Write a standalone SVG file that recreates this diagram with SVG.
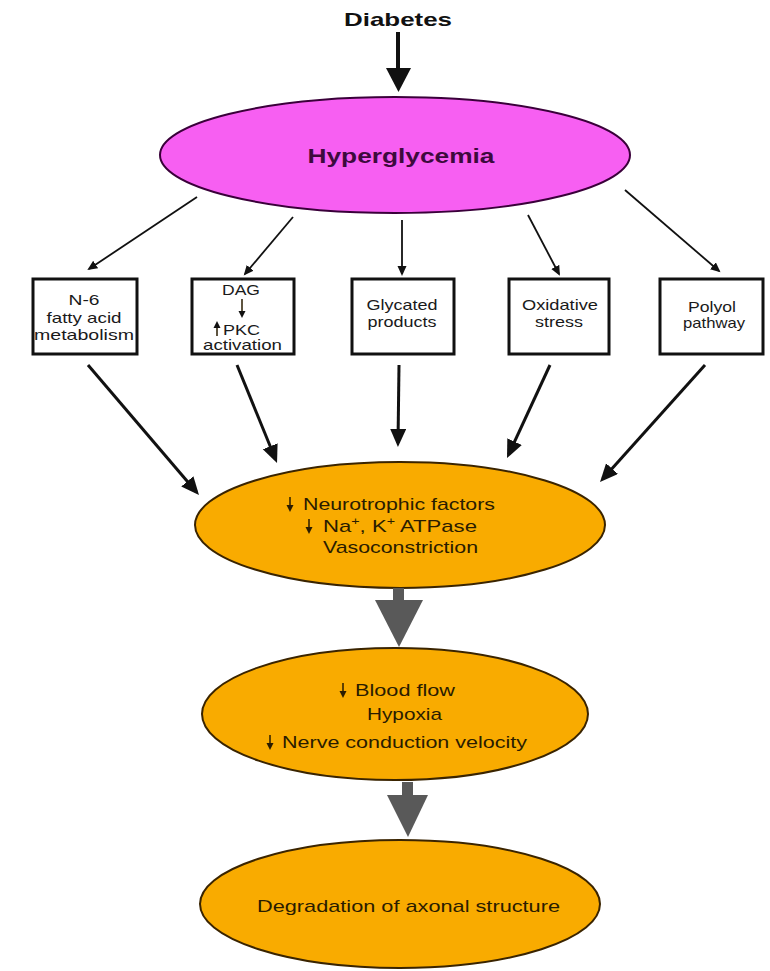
<svg xmlns="http://www.w3.org/2000/svg" width="770" height="971" viewBox="0 0 770 971">
<style>
.t{font-family:"Liberation Sans",Arial,sans-serif;}
.box{fill:#fff;stroke:#111;stroke-width:3;}
.bt{font-family:"Liberation Sans",Arial,sans-serif;font-size:14.5px;fill:#1a1a1a;text-anchor:middle;}
.ot{font-family:"Liberation Sans",Arial,sans-serif;font-size:17px;fill:#2a1c00;}
.orange{fill:#f9ab00;stroke:#3a2400;stroke-width:2;}
.thin{stroke:#111;stroke-width:1.8;fill:none;marker-end:url(#hs);}
.thick{stroke:#111;stroke-width:3;fill:none;marker-end:url(#hl);}
.sm{stroke:#2a1c00;stroke-width:1.5;fill:none;}
.gray{fill:#595959;}
</style>
<defs>
<marker id="hs" markerUnits="userSpaceOnUse" markerWidth="11" markerHeight="10" refX="8" refY="4.5" orient="auto"><path d="M0,0 L10,4.5 L0,9 z" fill="#111"/></marker>
<marker id="hl" markerUnits="userSpaceOnUse" markerWidth="19" markerHeight="17" refX="14" refY="8" orient="auto"><path d="M0,0 L18,8 L0,16 z" fill="#111"/></marker>
</defs>
<rect width="770" height="971" fill="#fff"/>

<g id="diabetes">
<text class="t" x="398" y="26" font-size="19" font-weight="bold" text-anchor="middle" textLength="108" lengthAdjust="spacingAndGlyphs" fill="#111">Diabetes</text>
</g>

<g id="hyperglycemia">
<ellipse cx="395" cy="155" rx="235" ry="58" fill="#f75ff2" stroke="#3a003a" stroke-width="2"/>
<text class="t" x="401" y="163" font-size="21" font-weight="bold" text-anchor="middle" textLength="187" lengthAdjust="spacingAndGlyphs" fill="#3d0a3d">Hyperglycemia</text>
</g>

<g id="box-n6">
<rect class="box" x="33" y="279" width="104" height="75"/>
<text class="bt" x="84" y="305" textLength="31" lengthAdjust="spacingAndGlyphs">N-6</text>
<text class="bt" x="84" y="323" textLength="75" lengthAdjust="spacingAndGlyphs">fatty acid</text>
<text class="bt" x="84" y="340" textLength="100" lengthAdjust="spacingAndGlyphs">metabolism</text>
</g>

<g id="box-dag">
<rect class="box" x="192" y="279" width="102" height="75"/>
<text class="bt" x="241" y="295" textLength="38" lengthAdjust="spacingAndGlyphs">DAG</text>
<line class="sm" x1="242" y1="299" x2="242" y2="312"/>
<path d="M238.5,311 L245.5,311 L242,318 z" fill="#111"/>
<line class="sm" x1="217" y1="327" x2="217" y2="336"/>
<path d="M213.5,328 L220.5,328 L217,321 z" fill="#111"/>
<text class="bt" x="241.5" y="335" textLength="37" lengthAdjust="spacingAndGlyphs">PKC</text>
<text class="bt" x="242.5" y="350" textLength="79" lengthAdjust="spacingAndGlyphs">activation</text>
</g>

<g id="box-glycated">
<rect class="box" x="352" y="279" width="102" height="75"/>
<text class="bt" x="402" y="310" textLength="71" lengthAdjust="spacingAndGlyphs">Glycated</text>
<text class="bt" x="402" y="327" textLength="69" lengthAdjust="spacingAndGlyphs">products</text>
</g>

<g id="box-oxidative">
<rect class="box" x="509" y="279" width="100" height="75"/>
<text class="bt" x="560" y="310" textLength="76" lengthAdjust="spacingAndGlyphs">Oxidative</text>
<text class="bt" x="559" y="327" textLength="48" lengthAdjust="spacingAndGlyphs">stress</text>
</g>

<g id="box-polyol">
<rect class="box" x="660" y="279" width="103" height="75"/>
<text class="bt" x="712" y="312" textLength="48" lengthAdjust="spacingAndGlyphs">Polyol</text>
<text class="bt" x="714" y="328" textLength="62" lengthAdjust="spacingAndGlyphs">pathway</text>
</g>

<g id="effects1">
<ellipse class="orange" cx="400" cy="525" rx="205" ry="63"/>
<line class="sm" x1="290" y1="497" x2="290" y2="506"/>
<path d="M286.5,505 L293.5,505 L290,512 z" fill="#2a1c00"/>
<text class="ot" x="303" y="510" textLength="192" lengthAdjust="spacingAndGlyphs">Neurotrophic factors</text>
<line class="sm" x1="309" y1="519" x2="309" y2="528"/>
<path d="M305.5,527 L312.5,527 L309,534 z" fill="#2a1c00"/>
<text class="ot" x="323" y="532" textLength="154" lengthAdjust="spacingAndGlyphs">Na<tspan font-size="11" dy="-7">+</tspan><tspan dy="7">, K</tspan><tspan font-size="11" dy="-7">+</tspan><tspan dy="7"> ATPase</tspan></text>
<text class="ot" x="323" y="553" textLength="155" lengthAdjust="spacingAndGlyphs">Vasoconstriction</text>
</g>

<g id="effects2">
<ellipse class="orange" cx="395" cy="714" rx="193" ry="66"/>
<line class="sm" x1="343" y1="683" x2="343" y2="692"/>
<path d="M339.5,691 L346.5,691 L343,698 z" fill="#2a1c00"/>
<text class="ot" x="355" y="696" textLength="100" lengthAdjust="spacingAndGlyphs">Blood flow</text>
<text class="ot" x="367" y="720" textLength="75" lengthAdjust="spacingAndGlyphs">Hypoxia</text>
<line class="sm" x1="270" y1="735" x2="270" y2="744"/>
<path d="M266.5,743 L273.5,743 L270,750 z" fill="#2a1c00"/>
<text class="ot" x="282" y="748" textLength="245" lengthAdjust="spacingAndGlyphs">Nerve conduction velocity</text>
</g>

<g id="degradation">
<ellipse class="orange" cx="400" cy="904" rx="200" ry="64"/>
<text class="ot" x="257" y="912" font-size="16.5" textLength="303" lengthAdjust="spacingAndGlyphs">Degradation of axonal structure</text>
</g>

<g id="connectors">
<line x1="398" y1="32" x2="398" y2="72" stroke="#111" stroke-width="4"/>
<path d="M386,68 L411,68 L398.5,92 z" fill="#111"/>
<line class="thin" x1="197" y1="197" x2="89" y2="269"/>
<line class="thin" x1="293" y1="217" x2="245" y2="274"/>
<line class="thin" x1="402" y1="220" x2="402" y2="274"/>
<line class="thin" x1="528" y1="215" x2="559" y2="274"/>
<line class="thin" x1="625" y1="190" x2="719" y2="271"/>
<line class="thick" x1="88" y1="365" x2="196.4" y2="492"/>
<line class="thick" x1="237" y1="365" x2="275.5" y2="459.3"/>
<line class="thick" x1="399" y1="365" x2="398" y2="443"/>
<line class="thick" x1="550" y1="365" x2="508.7" y2="454.4"/>
<line class="thick" x1="705" y1="365" x2="602.7" y2="479"/>
<rect class="gray" x="393" y="588" width="11" height="14"/>
<path class="gray" d="M375,600 L423,600 L399,647 z"/>
<rect class="gray" x="402" y="782" width="11" height="15"/>
<path class="gray" d="M387,795 L428,795 L408,837 z"/>
</g>
</svg>
